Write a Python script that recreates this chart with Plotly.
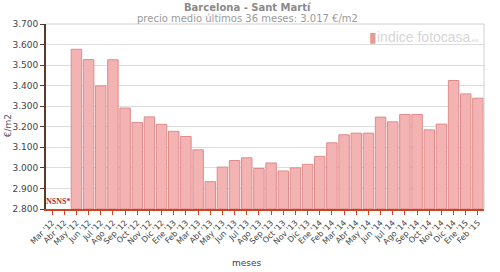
import plotly.graph_objects as go

months = ["Mar '12", "Abr '12", "May '12", "Jun '12", "Jul '12", "Ago '12", "Sep '12", "Oct '12",
          "Nov '12", "Dic '12", "Ene '13", "Feb '13", "Mar '13", "Abr '13", "May '13", "Jun '13",
          "Jul '13", "Ago '13", "Sep '13", "Oct '13", "Nov '13", "Dic '13", "Ene '14", "Feb '14",
          "Mar '14", "Abr '14", "May '14", "Jun '14", "Jul '14", "Ago '14", "Sep '14", "Oct '14",
          "Nov '14", "Dic '14", "Ene '15", "Feb '15"]
prices = [None, None, 3577, 3527, 3399, 3526, 3291, 3221,
          3248, 3212, 3178, 3153, 3088, 2933, 3004, 3036,
          3049, 2997, 3024, 2985, 3000, 3017, 3056, 3122,
          3161, 3169, 3169, 3247, 3224, 3260, 3260, 3185,
          3213, 3425, 3360, 3339]
y_ticks = [2800, 2900, 3000, 3100, 3200, 3300, 3400, 3500, 3600, 3700]

FONT = "DejaVu Sans"

fig = go.Figure()
fig.add_trace(go.Bar(
    x=months, y=[p if p is None else p - 2800 for p in prices], base=2800,
    marker=dict(color="#f3b3b3", line=dict(color="#e08a8a", width=1)),
    hoverinfo="skip",
))

fig.update_layout(
    width=500, height=272,
    margin=dict(l=40, r=16, t=24, b=63),
    paper_bgcolor="white", plot_bgcolor="white",
    separators=",.",
    bargap=0.14,
    showlegend=False,
    font=dict(family=FONT, color="#444"),
    xaxis=dict(
        type="category", categoryorder="array", categoryarray=months,
        tickangle=-45, tickfont=dict(size=8, color="#444"),
        ticks="outside", ticklen=4, tickcolor="#cc4422",
        showline=True, linecolor="#cc4422", linewidth=2,
        showgrid=False, range=[-0.5, 35.5], fixedrange=True,
    ),
    yaxis=dict(
        range=[2800, 3700], tickvals=y_ticks, tickformat=",d",
        tickfont=dict(size=9, color="#444"),
        ticks="outside", ticklen=4, tickcolor="#5a3b2b",
        showline=True, linecolor="#5a3b2b", linewidth=2,
        showgrid=True, gridcolor="#dcdcdc", gridwidth=1,
        zeroline=False,
    ),
    shapes=[
        dict(type="line", xref="paper", yref="paper", x0=0, x1=1, y0=1, y1=1,
             line=dict(color="#d0d0d0", width=1)),
        dict(type="line", xref="paper", yref="paper", x0=1, x1=1, y0=0, y1=1,
             line=dict(color="#d0d0d0", width=1)),
    ],
    annotations=[
        dict(text="<b>Barcelona - Sant Martí</b>", xref="paper", yref="paper",
             x=0.46, y=1, yshift=24, yanchor="top", showarrow=False,
             font=dict(size=10, color="#8a8a8a", family=FONT)),
        dict(text="precio medio últimos 36 meses: 3.017 €/m2", xref="paper", yref="paper",
             x=0.46, y=1, yshift=13, yanchor="top", showarrow=False,
             font=dict(size=10, color="#9a9a9a", family=FONT)),
        dict(text="<span style='color:#e39a9a'>▮</span>indice fotocasa<span style='font-size:6px'>.es</span>",
             xref="paper", yref="paper",
             x=0.99, y=0.985, xanchor="right", yanchor="top", showarrow=False,
             font=dict(size=14, color="#d6d6d6", family="Liberation Sans")),
        dict(text="<b>NSNS*</b>", xref="x", yref="y", x=0.5, y=2800, yshift=8,
             showarrow=False, font=dict(size=8, color="#b03030", family="Liberation Serif")),
        dict(text="€/m2", xref="paper", yref="paper", x=-39 / 444, y=0.45,
             xanchor="center", yanchor="middle",
             textangle=-90, showarrow=False, font=dict(size=9, color="#555", family=FONT)),
        dict(text="meses", xref="paper", yref="paper", x=0.46, y=0, yshift=-47,
             yanchor="top", showarrow=False, font=dict(size=9, color="#444", family=FONT)),
    ],
)

fig.write_html("out.html")
